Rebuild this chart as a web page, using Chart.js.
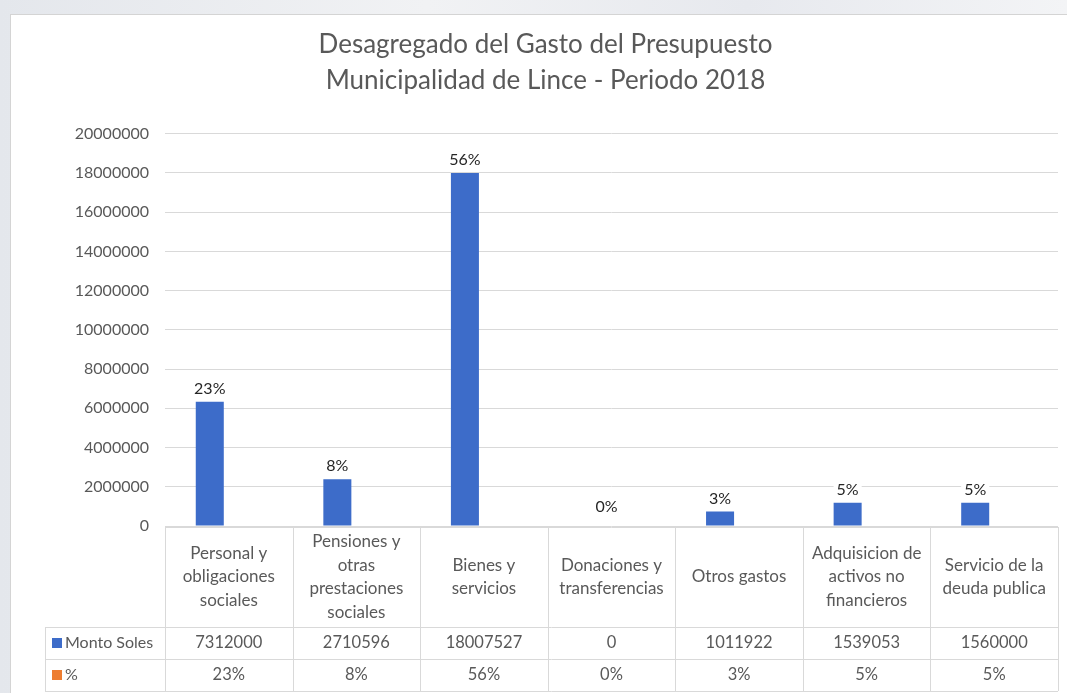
<!DOCTYPE html>
<html>
<head>
<meta charset="utf-8">
<script src="https://cdn.jsdelivr.net/npm/chart.js@4.4.1/dist/chart.umd.min.js"></script>
<style>
    body { margin: 0; width: 1067px; height: 693px; overflow: hidden;
           background: linear-gradient(90deg, #e4e7ec 0%, #f1f2f4 40%, #e7e9ee 70%, #f3f4f6 100%); }
    .chart-frame { position: absolute; left: 10px; top: 14px; width: 1057px; height: 679px;
                   background: #fff; border-left: 1px solid #d4d4d4; border-top: 1px solid #d4d4d4; box-sizing: border-box; }
    .chart-frame canvas { position: absolute; left: 0; top: 0; }
</style>
</head>
<body>
<div class="chart-frame">
    <canvas id="gasto-chart" width="1056" height="678"></canvas>
</div>
<script>
// Categorias (cabecera de la tabla, una linea por elemento)
const categorias = [
    ['Personal y', 'obligaciones', 'sociales'],
    ['Pensiones y', 'otras', 'prestaciones', 'sociales'],
    ['Bienes y', 'servicios'],
    ['Donaciones y', 'transferencias'],
    ['Otros gastos'],
    ['Adquisicion de', 'activos no', 'financieros'],
    ['Servicio de la', 'deuda publica']
];
// Valores de la tabla de datos
const montoSoles = [7312000, 2710596, 18007527, 0, 1011922, 1539053, 1560000];
const porcentaje = [23, 8, 56, 0, 3, 5, 5];
// Alturas de las barras tal como se ven en el grafico (no coinciden del todo con la tabla)
const montoBarras = [6330000, 2380000, 18000000, 0, 740000, 1180000, 1180000];
const yTicks = { min: 0, max: 20000000, step: 2000000 };

const AZUL = '#3D6CC9';
const NARANJA = '#ED7D31';
const GRIS_TEXTO = '#595959';
const GRIS_LINEA = '#d9d9d9';
const FUENTE = 'Lato';

// Etiquetas de porcentaje sobre las barras azules
const etiquetasPlugin = {
    id: 'etiquetas',
    afterDatasetsDraw(chart) {
        const ctx = chart.ctx;
        const meta = chart.getDatasetMeta(0);
        const xScale = chart.scales.x;
        ctx.save();
        ctx.font = '16px ' + FUENTE;
        ctx.textAlign = 'center';
        ctx.textBaseline = 'middle';
        meta.data.forEach((bar, i) => {
            const txt = porcentaje[i] + '%';
            let x = bar.x, y = bar.y - 13;
            if (montoBarras[i] === 0) {
                x = xScale.getPixelForValue(i) - 5;
                y = chart.chartArea.bottom - 19;
            }
            const w = ctx.measureText(txt).width + 6;
            ctx.fillStyle = '#fff';
            ctx.fillRect(x - w / 2, y - 10, w, 20);
            ctx.fillStyle = '#262626';
            ctx.fillText(txt, x, y);
        });
        ctx.restore();
    }
};

// Tabla de datos bajo el eje
const tablaPlugin = {
    id: 'tabla',
    afterDraw(chart) {
        const ctx = chart.ctx;
        const area = chart.chartArea;
        const xScale = chart.scales.x;
        const n = categorias.length;
        const ancho = (area.right - area.left) / n;
        const top = area.bottom + 1;
        const filaCab = top + 100;
        const filaMonto = filaCab + 32;
        const filaPct = filaMonto + 32;
        const izq = 34;

        ctx.save();
        ctx.strokeStyle = GRIS_LINEA;
        ctx.lineWidth = 1;
        ctx.beginPath();
        // horizontales
        ctx.moveTo(area.left, top + 0.5); ctx.lineTo(area.right, top + 0.5);
        [filaCab, filaMonto, filaPct].forEach(y => {
            ctx.moveTo(izq, y + 0.5); ctx.lineTo(area.right, y + 0.5);
        });
        // verticales
        for (let i = 0; i <= n; i++) {
            const x = Math.round(area.left + i * ancho) + 0.5;
            ctx.moveTo(x, top); ctx.lineTo(x, filaPct);
        }
        ctx.moveTo(izq + 0.5, filaCab); ctx.lineTo(izq + 0.5, filaPct);
        ctx.stroke();

        ctx.fillStyle = GRIS_TEXTO;
        ctx.textAlign = 'center';
        ctx.textBaseline = 'middle';
        const lh = 23.5;
        categorias.forEach((lineas, i) => {
            const cx = xScale.getPixelForValue(i);
            const cy = (top + filaCab) / 2;
            ctx.font = '17px ' + FUENTE;
            lineas.forEach((l, k) => {
                ctx.fillText(l, cx, cy + (k - (lineas.length - 1) / 2) * lh);
            });
            ctx.font = '16.5px ' + FUENTE;
            ctx.fillText(String(montoSoles[i]), cx, (filaCab + filaMonto) / 2);
            ctx.fillText(porcentaje[i] + '%', cx, (filaMonto + filaPct) / 2);
        });

        // leyenda en la primera columna
        ctx.textAlign = 'left';
        ctx.font = '16px ' + FUENTE;
        ctx.fillStyle = AZUL;
        ctx.fillRect(izq + 7, (filaCab + filaMonto) / 2 - 5, 10, 10);
        ctx.fillStyle = NARANJA;
        ctx.fillRect(izq + 7, (filaMonto + filaPct) / 2 - 5, 10, 10);
        ctx.fillStyle = GRIS_TEXTO;
        ctx.fillText('Monto Soles', izq + 20, (filaCab + filaMonto) / 2);
        ctx.fillText('%', izq + 20, (filaMonto + filaPct) / 2);
        ctx.restore();
    }
};

const ctx = document.getElementById('gasto-chart').getContext('2d');
new Chart(ctx, {
    type: 'bar',
    data: {
        labels: categorias,
        datasets: [
            {
                label: 'Monto Soles',
                data: montoBarras,
                backgroundColor: AZUL,
                categoryPercentage: 0.596,
                barPercentage: 0.737
            },
            {
                // la serie % va en la misma escala: sus barras quedan en cero
                label: '%',
                data: porcentaje,
                backgroundColor: 'rgba(0,0,0,0)',
                categoryPercentage: 0.596,
                barPercentage: 0.737
            }
        ]
    },
    options: {
        responsive: false,
        animation: false,
        layout: { padding: { left: 22, right: 9, top: 0, bottom: 167 } },
        plugins: {
            legend: { display: false },
            tooltip: { enabled: false },
            title: {
                display: true,
                text: ['Desagregado del Gasto del Presupuesto', 'Municipalidad de Lince - Periodo 2018'],
                color: GRIS_TEXTO,
                font: { family: FUENTE, size: 26, weight: 'normal', lineHeight: 1.38 },
                padding: { top: 12, bottom: 35 }
            }
        },
        scales: {
            x: { display: false },
            y: {
                min: yTicks.min,
                max: yTicks.max,
                border: { display: false },
                grid: { color: GRIS_LINEA, drawTicks: false },
                ticks: {
                    stepSize: yTicks.step,
                    padding: 16,
                    color: GRIS_TEXTO,
                    font: { family: FUENTE, size: 16 },
                    callback: v => String(v)
                },
                afterFit(scale) { scale.width = 132; }
            }
        }
    },
    plugins: [etiquetasPlugin, tablaPlugin]
});
</script>
</body>
</html>
